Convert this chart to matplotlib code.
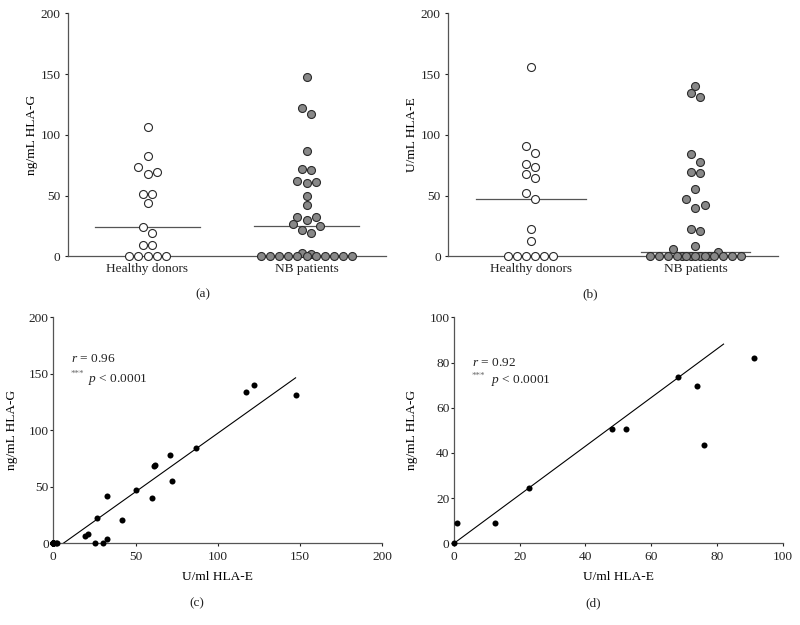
import matplotlib
matplotlib.use("Agg")
import matplotlib.pyplot as plt
import numpy as np

plt.rcParams["font.family"] = ["Liberation Serif", "DejaVu Serif"]
plt.rcParams["mathtext.fontset"] = "custom"
plt.rcParams["mathtext.rm"] = "Liberation Serif"
plt.rcParams["mathtext.it"] = "Liberation Serif:italic"

# ---- data ----
groups = ["Healthy donors", "NB patients"]

# healthy donors
healthy_hla_g = [106.7, 82.3, 73.5, 69.7, 67.8, 51.0, 51.3, 43.5, 24.4, 19.2, 9.1, 9.1, 0, 0, 0, 0, 0]
healthy_hla_e = [156.1, 91.1, 85.0, 76.0, 73.8, 68.0, 64.2, 52.4, 47.5, 22.2, 12.6, 0, 0, 0, 0, 0, 0]

# NB patients (paired: same patient at same index)
nb_hla_g = [147.3, 122.1, 117.4, 87.0, 72.0, 71.0, 62.0, 61.0, 60.2, 50.0,
            42.0, 32.5, 32.5, 30.0, 26.6, 25.3, 21.2, 19.4, 2.5, 1.9] + [0] * 11
nb_hla_e = [131.0, 140.2, 134.0, 84.0, 55.0, 77.9, 69.2, 68.2, 40.0, 47.0,
            20.7, 42.2, 3.4, 0.5, 22.3, 0.5, 8.3, 6.3, 0.5, 0.5] + [0] * 11

# panel (d): healthy donors, HLA-E vs HLA-G
d_hla_e = [0, 0.8, 12.6, 22.8, 48.1, 52.3, 68.2, 73.8, 76.0, 91.3]
d_hla_g = [0, 9.1, 8.8, 24.5, 50.7, 50.7, 73.6, 69.5, 43.6, 81.9]

# regression lines as printed (slope, intercept, x range)
fit_c = (1.037, -6.3, [0, 147.3])
fit_d = (1.075, 0.0, [0, 82.0])
stats_c = ("0.96", "0.0001")
stats_d = ("0.92", "0.0001")

AX_COL = "#555555"
EDGE = "#2a2a2a"
FS = 9.6


def swarm_x(values, center, step, tol=7.3):
    # column-scatter layout: values binned into rows, each row spread symmetrically
    vals = np.asarray(values, float)
    xs = np.full(len(vals), float(center))
    rows = []
    for i in np.argsort(vals, kind="stable"):
        v = vals[i]
        if rows:
            first = vals[rows[-1][0]]
            if (v == 0) == (first == 0) and v <= first + tol:
                rows[-1].append(i)
                continue
        rows.append([i])
    for row in rows:
        row = sorted(row, key=lambda k: -vals[k])
        n = len(row)
        offs = np.arange(n) - (n - 1) / 2
        slots = sorted(offs, key=lambda o: (-abs(o), o))
        for k, o in zip(row, slots):
            xs[k] = center + o * step
    return xs


def style_axes(ax):
    for s in ["top", "right"]:
        ax.spines[s].set_visible(False)
    for s in ["left", "bottom"]:
        ax.spines[s].set_color(AX_COL)
        ax.spines[s].set_linewidth(0.9)
    ax.tick_params(colors="#222222", labelsize=FS, length=2.5, width=0.8, pad=3,
                   direction="out")
    for t in ax.get_xticklines() + ax.get_yticklines():
        t.set_color(AX_COL)


def dot_panel(ax, healthy, nb, ylabel, width_px):
    step = 9.1 / width_px * 2.0
    for pos, vals, face in [(1, healthy, "white"), (2, nb, "#888888")]:
        xs = swarm_x(vals, pos, step)
        med = np.median(vals)
        ax.plot([pos - 0.333, pos + 0.333], [med, med], color=AX_COL, lw=0.9, zorder=2)
        ax.scatter(xs, vals, s=33, facecolor=face, edgecolor=EDGE, linewidth=0.8,
                   zorder=4, clip_on=False)
    ax.set_xlim(0.5, 2.5)
    ax.set_ylim(0, 200)
    ax.set_yticks([0, 50, 100, 150, 200])
    ax.set_xticks([1, 2])
    ax.set_xticklabels(groups)
    style_axes(ax)
    ax.tick_params(axis="x", length=0, pad=5)
    ax.set_ylabel(ylabel, fontsize=FS, labelpad=2)


def scatter_panel(ax, x, y, fit, stats, lim, ticks, text_pos):
    ax.scatter(x, y, s=19, color="black", zorder=4, clip_on=False, linewidth=0)
    slope, icpt, xr = fit
    xl = np.linspace(xr[0], xr[1], 50)
    ax.plot(xl, slope * xl + icpt, color="black", lw=0.8, zorder=3)
    ax.set_xlim(0, lim)
    ax.set_ylim(0, lim)
    ax.set_xticks(ticks)
    ax.set_yticks(ticks)
    style_axes(ax)
    ax.tick_params(axis="y", pad=0.8)
    ax.set_xlabel("U/ml HLA-E", fontsize=FS, labelpad=6)
    ax.set_ylabel("ng/mL HLA-G", fontsize=FS, labelpad=8)
    tx, ty1, ty2, tx2 = text_pos
    ax.text(tx, ty1, r"$r$ = " + stats[0], transform=ax.transAxes, fontsize=FS,
            va="center", ha="left", color="#222222")
    ax.text(tx, ty2 + 0.022, "***", transform=ax.transAxes, fontsize=6.5,
            va="center", ha="left", color="#666666")
    ax.text(tx2, ty2, r"$p$ < " + stats[1], transform=ax.transAxes, fontsize=FS,
            va="center", ha="left", color="#222222")


fig = plt.figure(figsize=(8, 6.25), dpi=100)

ax_a = fig.add_axes([0.085, 0.590, 0.3975, 0.3888])
dot_panel(ax_a, healthy_hla_g, nb_hla_g, "ng/mL HLA-G", 318)

ax_b = fig.add_axes([0.5604, 0.590, 0.4118, 0.3888])
dot_panel(ax_b, healthy_hla_e, nb_hla_e, "U/mL HLA-E", 329.4)

ax_c = fig.add_axes([0.0666, 0.1307, 0.41125, 0.3616])
scatter_panel(ax_c, nb_hla_g, nb_hla_e, fit_c, stats_c, 200, [0, 50, 100, 150, 200],
              (0.053, 0.814, 0.727, 0.106))

ax_d = fig.add_axes([0.5675, 0.1307, 0.4109, 0.3616])
scatter_panel(ax_d, d_hla_e, d_hla_g, fit_d, stats_d, 100, [0, 20, 40, 60, 80, 100],
              (0.054, 0.799, 0.719, 0.112))

for lbl, x, y in [("(a)", 0.254, 0.5296), ("(b)", 0.7375, 0.5296),
                  ("(c)", 0.246, 0.035), ("(d)", 0.741, 0.035)]:
    fig.text(x, y, lbl, ha="center", va="center", fontsize=FS, color="#222222")

fig.savefig("out.png", dpi=100)
